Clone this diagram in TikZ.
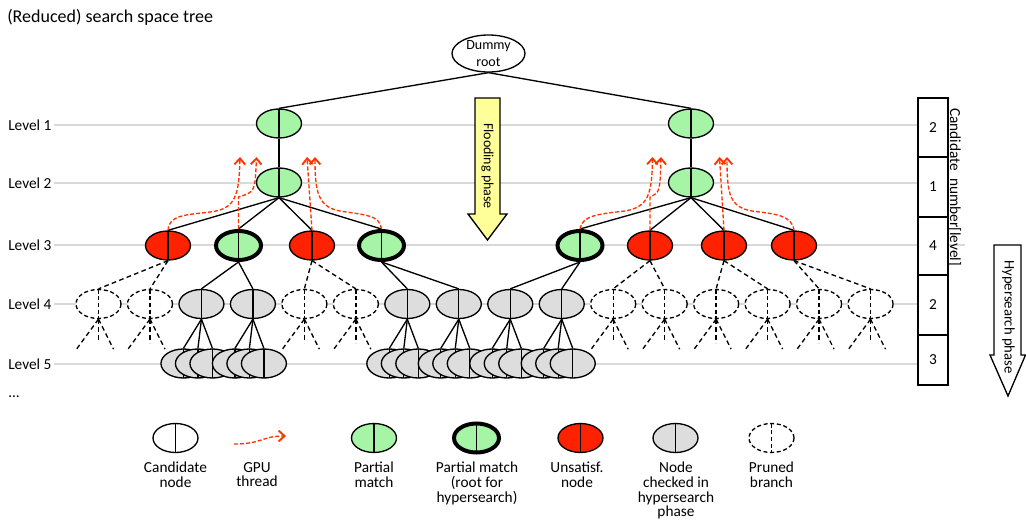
\documentclass[tikz,border=0pt]{standalone}
\usepackage{fontspec}
\setmainfont{Carlito}
\usetikzlibrary{shapes.geometric,arrows.meta,calc}
\definecolor{matchgreen}{RGB}{166,245,166}
\definecolor{unsatred}{RGB}{255,34,0}
\definecolor{threadred}{RGB}{255,51,0}
\definecolor{checkgray}{RGB}{221,221,221}
\definecolor{floodyellow}{RGB}{255,255,153}
\definecolor{levelgray}{RGB}{217,217,217}

\begin{document}
\begin{tikzpicture}[x=0.75pt, y=-0.75pt,
  txt/.style={font=\fontsize{11.5}{11}\selectfont, inner sep=0pt},
  cand/.style={ellipse, draw, line width=1pt, fill=white, minimum width=33.75pt, minimum height=21.75pt, inner sep=0pt,
    path picture={\draw[line width=1pt] (path picture bounding box.north) -- (path picture bounding box.south);}},
  partial/.style={cand, fill=matchgreen},
  hroot/.style={partial, line width=3pt},
  unsat/.style={cand, fill=unsatred},
  checked/.style={cand, fill=checkgray},
  pruned/.style={cand, dash pattern=on 3pt off 2pt,
    path picture={\draw[line width=1pt, dash pattern=on 3pt off 2pt] (path picture bounding box.north) -- (path picture bounding box.south);}},
  link/.style={line width=1pt},
  cut/.style={line width=1pt, dash pattern=on 3.5pt off 2.5pt},
  gpu/.style={threadred, line width=1pt, dash pattern=on 3pt off 1.5pt, -{Straight Barb[length=4.5pt, width=8pt, line width=1.4pt]}},
  lvl/.style={levelgray, line width=1.5pt},
  numbox/.style={draw, line width=1pt, fill=white, minimum width=22.5pt, inner sep=0pt, font=\fontsize{11.5}{13}\selectfont}]
  \useasboundingbox (0,0) rectangle (1026,521);

  \node[anchor=west, inner sep=0pt, font=\fontsize{13.5}{16}\selectfont] (title) at (7,17) {(Reduced) search space tree};

  % levels
  \foreach \y/\n in {125/1, 183/2, 245/3, 304/4, 364/5}
    \node[txt, anchor=west] (lv\n) at (8,\y) {Level \n};
  \node[txt, anchor=west] (dots) at (8,396.5) {...};
  \foreach \y in {125, 183, 304, 364}
    \draw[lvl] (54,\y) -- (918,\y);
  \draw[lvl] (54,245) -- (965,245);

  % phases
  \draw[line width=1pt, fill=floodyellow] (475,98) -- (500,98) -- (500,214) -- (507,214) -- (487.5,240) -- (468,214) -- (475,214) -- cycle;
  \node[rotate=-90, inner sep=0pt, font=\fontsize{10.5}{12}\selectfont] (flood) at (487.5,166) {Flooding phase};
  \draw[line width=1pt, fill=white] (994,245) -- (1021,245) -- (1021,355) -- (1025.5,355) -- (1008,396) -- (990,355) -- (994,355) -- cycle;
  \node[rotate=-90, inner sep=0pt, font=\fontsize{11}{13}\selectfont] (hyper) at (1008.5,317) {Hypersearch phase};

  \node[numbox, minimum height=44.25pt] (n1) at (933,127.5) {2};
  \node[numbox, minimum height=45pt] (n2) at (933,187) {1};
  \node[numbox, minimum height=43.5pt] (n3) at (933,246) {4};
  \node[numbox, minimum height=45pt] (n4) at (933,305) {2};
  \node[numbox, minimum height=37.5pt] (n5) at (933,360) {3};
  \node[txt, rotate=-90, anchor=base west] (cnum) at (950,108) {Candidate\ \ number[level]};

  % tree
  \node[ellipse, draw, line width=1pt, minimum width=54.75pt, minimum height=27.75pt, inner sep=0pt, align=center,
    font=\fontsize{10.5}{12.5}\selectfont] (root) at (488.5,53.5) {Dummy\\root};
  \node[partial] (a1) at (279,123.5) {};
  \node[partial] (a2) at (691,123.5) {};
  \node[partial] (b1) at (279,182.5) {};
  \node[partial] (b2) at (691,182.5) {};
  \node[unsat] (c1) at (168,245.5) {};
  \node[hroot] (c2) at (238.5,245.5) {};
  \node[unsat] (c3) at (312,245.5) {};
  \node[hroot] (c4) at (381.5,245.5) {};
  \node[hroot] (c5) at (580,245.5) {};
  \node[unsat] (c6) at (650,245.5) {};
  \node[unsat] (c7) at (724,245.5) {};
  \node[unsat] (c8) at (794,245.5) {};
  \draw[link] (root.south) -- (a1.north);
  \draw[link] (root.south) -- (a2.north);
  \draw[link] (a1.south) -- (b1.north);
  \draw[link] (a2.south) -- (b2.north);
  \foreach \c in {1,...,4} \draw[link] (b1.south) -- (c\c.north);
  \foreach \c in {5,...,8} \draw[link] (b2.south) -- (c\c.north);

  \foreach \i/\kind/\up/\ln in {0/pruned/c1/cut, 1/pruned/c1/cut, 2/checked/c2/link, 3/checked/c2/link,
      4/pruned/c3/cut, 5/pruned/c3/cut, 6/checked/c4/link, 7/checked/c4/link, 8/checked/c5/link, 9/checked/c5/link,
      10/pruned/c6/cut, 11/pruned/c6/cut, 12/pruned/c7/cut, 13/pruned/c7/cut, 14/pruned/c8/cut, 15/pruned/c8/cut} {
    \node[\kind] (d\i) at (98.5+51.47*\i, 304) {};
    \draw[\ln] (\up.south) -- (d\i.north);
  }
  \foreach \i in {0,1,4,5,10,11,12,13,14,15} {
    \draw[cut] (d\i.south) -- ++(-22,30);
    \draw[cut] (d\i.south) -- ++(0,24);
    \draw[cut] (d\i.south) -- ++(15,30);
  }
  \foreach \p in {2,3,6,7,8,9}
    \foreach \o [count=\k] in {-18,-3.5,11}
      \node[checked] (e\p\k) at ($(d\p)+(\o,59.5)$) {};
  \foreach \p in {2,3,6,7,8,9}
    \foreach \k in {1,2,3}
      \draw[link] (d\p.south) -- (e\p\k.north);

  % GPU threads
  \coordinate (t1) at (240,157);
  \coordinate (t2) at (256.5,157);
  \coordinate (t3) at (307,157);
  \coordinate (t4) at (315,157);
  \coordinate (t5) at (652.5,157);
  \coordinate (t6) at (661,157);
  \coordinate (t7) at (719.5,157);
  \coordinate (t8) at (727,157);
  \draw[gpu] (c1.north) .. controls (169,215) and (185,215) .. (210,212) .. controls (236,209) and (239,195) .. (t1);
  \draw[gpu] (c2.north) -- (238.5,197) .. controls (255,192) .. (t2);
  \draw[gpu] (c3.north) -- (t3);
  \draw[gpu] (c4.north) .. controls (380,215) and (365,215) .. (340,211) .. controls (318,207) and (315,192) .. (t4);
  \draw[gpu] (c5.north) .. controls (582,215) and (600,214) .. (625,211) .. controls (648,207) and (652,195) .. (t5);
  \draw[gpu] (c6.north) -- (650,197) .. controls (660,192) .. (t6);
  \draw[gpu] (c7.north) -- (t7);
  \draw[gpu] (c8.north) .. controls (792,215) and (775,214) .. (752,211) .. controls (730,207) and (727,195) .. (t8);

  % legend
  \node[cand] (k1) at (175.5,438) {};
  \coordinate (g0) at (234,444);
  \coordinate (g1) at (286,436);
  \draw[gpu] (g0) .. controls (262,444) and (262,436) .. (g1);
  \node[partial] (k3) at (374,438) {};
  \node[hroot] (k4) at (476.5,438) {};
  \node[unsat] (k5) at (580.5,438) {};
  \node[checked] (k6) at (675.5,438) {};
  \node[pruned] (k7) at (771.5,438) {};
  \node[txt, align=center, anchor=north] (k1t) at (175.5,462) {Candidate\\node};
  \node[txt, align=center, anchor=north] (k2t) at (257,462) {GPU\\thread};
  \node[txt, align=center, anchor=north] (k3t) at (374,462) {Partial\\match};
  \node[txt, align=center, anchor=north] (k4t) at (477,462) {Partial match\\(root for\\hypersearch)};
  \node[txt, align=center, anchor=north] (k5t) at (577,462) {Unsatisf.\\node};
  \node[txt, align=center, anchor=north] (k6t) at (676,462) {Node\\checked in\\hypersearch\\phase};
  \node[txt, align=center, anchor=north] (k7t) at (771.5,462) {Pruned\\branch};
\end{tikzpicture}
\end{document}
